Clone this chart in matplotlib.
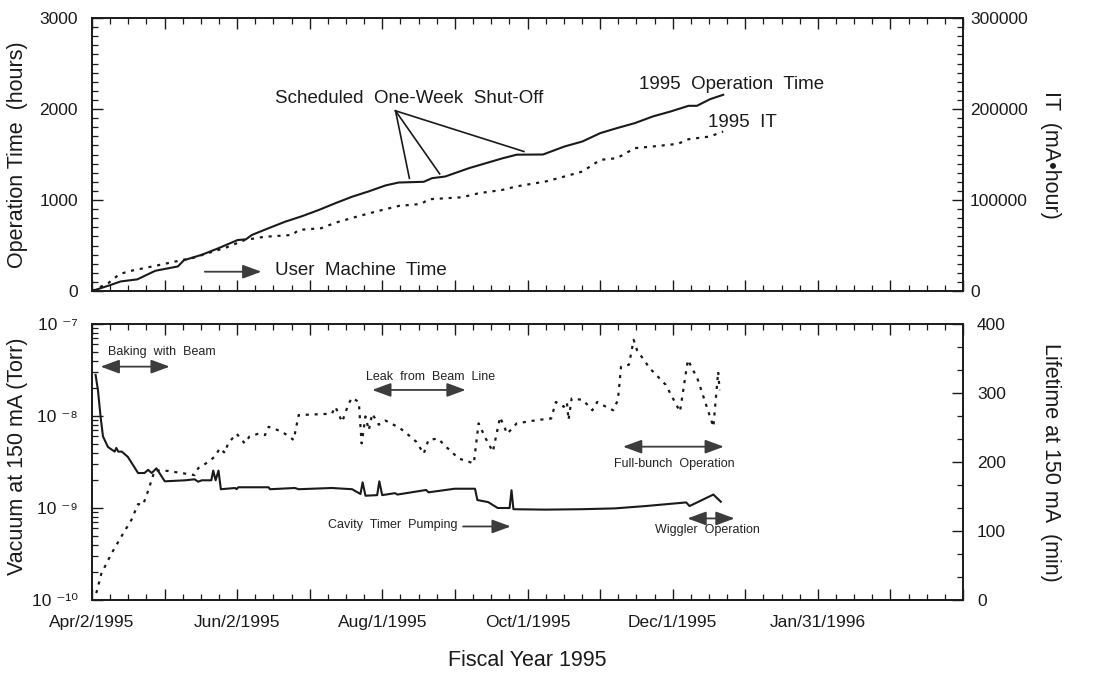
import numpy as np
import matplotlib
matplotlib.use("Agg")
import matplotlib.pyplot as plt
from matplotlib.ticker import FixedLocator, MultipleLocator, NullFormatter, FuncFormatter

plt.rcParams['font.family'] = ['Liberation Sans', 'DejaVu Sans']

# x axis = days since Apr/2/1995
date_labels = ['Apr/2/1995', 'Jun/2/1995', 'Aug/1/1995', 'Oct/1/1995', 'Dec/1/1995', 'Jan/31/1996']

# cumulative operation time (hours)
op_days = [0, 8, 12, 19, 26.5, 36, 38.5, 46, 53, 61, 64.5, 67, 74, 81, 88, 95, 102, 109,
           116, 123, 128.5, 139, 142.5, 148, 158, 165, 172, 178, 189, 198, 205.5, 213,
           220, 227.5, 235, 242.5, 250, 253.5, 259, 264.5]
op_hours = [0, 68, 105, 128, 222, 270, 338, 398, 470, 560, 568, 616, 690, 762, 822, 890,
            965, 1036, 1095, 1160, 1192, 1200, 1240, 1258, 1350, 1404, 1458, 1498, 1500,
            1588, 1643, 1735, 1790, 1845, 1918, 1973, 2035, 2035, 2108, 2156]

# integrated current (mA*hour)
it_days = [0, 7, 11.5, 16, 22.5, 29, 36, 42.5, 49, 56, 64, 72, 84, 86.5, 96, 102, 110,
           119, 128.5, 138, 141, 155, 162, 172, 178, 190, 198, 205.5, 213, 220, 227.5,
           235, 245.5, 250, 259, 264.5]
it_mah = [0, 9000, 18500, 22000, 25500, 29000, 33000, 36500, 42000, 47500, 56000, 59500,
          61600, 67100, 69000, 75000, 81000, 87300, 93500, 95700, 100800, 103000, 107400,
          111100, 115000, 120300, 125800, 131300, 144100, 146000, 157000, 158800, 161700,
          166800, 169800, 175300]

# vacuum pressure at 150 mA (Torr)
vac_days = [1.5, 2.5, 3.6, 4.6, 6.7, 9.5, 10.2, 11, 12.5, 15, 19.3, 22, 23.5, 25, 27, 30.5,
            39, 43, 44.5, 46, 50, 50.8, 51.8, 53, 54, 60, 60.6, 61.3, 74, 74.6, 85, 86.6,
            100.5, 109, 112.5, 113.4, 114.6, 119.5, 120.4, 121.6, 127, 128, 140, 141, 152,
            160.5, 161.5, 166, 170, 175, 175.8, 176.6, 190, 205, 219, 232, 249, 250.4,
            260.4, 263.5]
vac_torr = [2.8e-8, 1.9e-8, 9.8e-9, 6.0e-9, 4.6e-9, 4.1e-9, 4.5e-9, 4.1e-9, 4.1e-9, 3.6e-9,
            2.4e-9, 2.4e-9, 2.6e-9, 2.4e-9, 2.7e-9, 1.95e-9, 2.0e-9, 2.05e-9, 1.93e-9,
            2.0e-9, 2.0e-9, 2.55e-9, 2.0e-9, 2.55e-9, 1.6e-9, 1.65e-9, 1.6e-9, 1.68e-9,
            1.68e-9, 1.6e-9, 1.65e-9, 1.6e-9, 1.65e-9, 1.6e-9, 1.42e-9, 1.9e-9, 1.36e-9,
            1.38e-9, 1.95e-9, 1.38e-9, 1.45e-9, 1.4e-9, 1.57e-9, 1.48e-9, 1.62e-9, 1.62e-9,
            1.22e-9, 1.16e-9, 1.0e-9, 1.0e-9, 1.56e-9, 0.97e-9, 0.96e-9, 0.97e-9, 0.99e-9,
            1.05e-9, 1.15e-9, 1.05e-9, 1.4e-9, 1.17e-9]

# beam lifetime at 150 mA (min)
life_days = [1.8, 3.9, 8.1, 12.3, 16.5, 19.3, 21.4, 23.5, 26.3, 32, 43, 44.5, 48.7, 51.5,
             53.6, 55.7, 57, 60.6, 64, 66, 69.7, 72.5, 74, 79.6, 84.5, 86.6, 100.5, 102,
             104.8, 107.6, 109, 111.8, 113, 114.6, 116, 117.4, 120.2, 123, 128.6, 131, 136,
             139, 141, 145, 148.4, 153.7, 160, 162, 165, 168, 171, 174, 178, 187, 192.4,
             194.4, 197.7, 199, 199.7, 201, 205.7, 209.7, 211.7, 213.7, 218.4, 220.4, 221.7,
             225, 227, 228.4, 233.7, 240.4, 246.4, 249.7, 253.7, 260.4, 262.4, 263]
life_min = [10, 38, 67, 92, 116, 139, 138, 158, 188, 187, 181, 191, 200, 208, 220, 213, 227,
            241, 227, 237, 241, 239, 251, 244, 232, 268, 270, 280, 258, 285, 293, 287, 227,
            266, 246, 270, 254, 260, 250, 244, 229, 212, 232, 234, 222, 205, 198, 256, 234,
            215, 265, 241, 256, 261, 263, 287, 280, 287, 261, 292, 290, 275, 287, 283, 275,
            290, 338, 341, 377, 362, 336, 312, 273, 348, 321, 251, 331, 304]

ink = '#1a1a1a'
arrow_col = '#3c3c3c'
dots = (0, (1.4, 2.6))
SUP = str.maketrans('-0123456789', '\u207b\u2070\u00b9\u00b2\u00b3\u2074\u2075\u2076\u2077\u2078\u2079')

fig = plt.figure(figsize=(11.16, 6.73), dpi=100)
W, H = 1116, 673
ax1 = fig.add_axes([92 / W, 1 - 291 / H, 871 / W, 273 / H])
ax1r = ax1.twinx()
ax2 = fig.add_axes([92 / W, 1 - 600 / H, 871 / W, 276 / H])
ax2r = ax2.twinx()

major_x = np.arange(13) * 365 / 12
minor_x = np.arange(49) * 365 / 48
for ax in (ax1, ax2):
    ax.set_xlim(0, 365)
    ax.xaxis.set_major_locator(FixedLocator(major_x))
    ax.xaxis.set_minor_locator(FixedLocator(minor_x))
    ax.tick_params(axis='x', which='both', direction='in', top=True, bottom=True)
    ax.tick_params(axis='y', which='both', direction='in', left=True, right=False)
for ax in (ax1r, ax2r):
    ax.tick_params(axis='y', which='both', direction='in', left=False, right=True)
for ax in (ax1, ax1r, ax2, ax2r):
    ax.tick_params(which='major', length=8, width=1, colors=ink, labelsize=12.5)
    ax.tick_params(which='minor', length=4.5, width=0.9, colors=ink)
    for s in ax.spines.values():
        s.set_linewidth(1.2)
        s.set_color(ink)

ax1.tick_params(axis='x', labelbottom=False)
ax2.xaxis.set_major_formatter(FuncFormatter(
    lambda v, p: date_labels[p // 2] if p % 2 == 0 and p // 2 < len(date_labels) else ''))
ax2.tick_params(axis='x', which='major', pad=11)

# top panel: operation time and integrated current
ax1.set_ylim(0, 3000)
ax1.yaxis.set_major_locator(FixedLocator(np.arange(0, 3001, 1000)))
ax1.yaxis.set_minor_locator(FixedLocator(np.arange(0, 3001, 100)))
ax1.tick_params(axis='y', pad=10)
ax1r.set_ylim(0, 300000)
ax1r.yaxis.set_major_locator(FixedLocator(np.arange(0, 300001, 100000)))
ax1r.yaxis.set_minor_locator(FixedLocator(np.arange(0, 300001, 10000)))
ax1r.tick_params(axis='y', pad=5)

ax1.plot(op_days, op_hours, color=ink, lw=1.5)
ax1r.plot(it_days, it_mah, color=ink, lw=1.6, linestyle=dots)

ax1.text(76.5, 2063, 'Scheduled  One-Week  Shut-Off', fontsize=13.5, color=ink, va='baseline')
for x_end, y_end in [(133, 1239), (145.7, 1287), (181, 1533)]:
    ax1.plot([127.2, x_end], [1980, y_end], color=ink, lw=1.2)
ax1.text(229.2, 2216, '1995  Operation  Time', fontsize=13.5, color=ink, va='baseline')
ax1.text(258, 1805, '1995  IT', fontsize=13.5, color=ink, va='baseline')
ax1.text(76.5, 176, 'User  Machine  Time', fontsize=13.5, color=ink, va='baseline')

head = dict(color=arrow_col, lw=1.3, shrinkA=0, shrinkB=0, mutation_scale=20)
ax1.annotate('', xy=(71, 212), xytext=(47.3, 212),
             arrowprops=dict(arrowstyle='-|>,head_length=0.57,head_width=0.21', **head))

# bottom panel: vacuum (log) and lifetime
decades = [-10, -9, -8, -7]
ax2.set_yscale('log')
ax2.set_ylim(1e-10, 1e-7)
ax2.yaxis.set_major_locator(FixedLocator([10.0 ** e for e in decades]))
ax2.yaxis.set_minor_locator(FixedLocator([k * 10.0 ** e for e in decades[:-1] for k in range(2, 10)]))
ax2.yaxis.set_minor_formatter(NullFormatter())
ax2.yaxis.set_major_formatter(FuncFormatter(
    lambda v, p: '10 ' + str(round(np.log10(v))).translate(SUP)))
ax2.tick_params(axis='y', pad=10)
ax2r.set_ylim(0, 400)
ax2r.yaxis.set_major_locator(FixedLocator(np.arange(0, 401, 100)))
ax2r.yaxis.set_minor_locator(FixedLocator(np.arange(13) * 100 / 3))
ax2r.tick_params(axis='y', pad=10)

ax2.plot(vac_days, vac_torr, color=ink, lw=1.5)
ax2r.plot(life_days, life_min, color=ink, lw=1.6, linestyle=dots)

both = dict(arrowstyle='<|-|>,head_length=0.57,head_width=0.21', **head)
right = dict(arrowstyle='-|>,head_length=0.57,head_width=0.21', **head)
small = dict(fontsize=9, color='#222222', va='baseline')

ax2.text(6.7, 4.6e-8, 'Baking  with  Beam', **small)
ax2.annotate('', xy=(32.6, 3.44e-8), xytext=(3.6, 3.44e-8), arrowprops=both)
ax2.text(115, 2.46e-8, 'Leak  from  Beam  Line', **small)
ax2.annotate('', xy=(156.6, 1.92e-8), xytext=(117.4, 1.92e-8), arrowprops=both)
ax2.text(99, 6.1e-10, 'Cavity  Timer  Pumping', **small)
ax2.annotate('', xy=(175.5, 6.3e-10), xytext=(155.5, 6.3e-10), arrowprops=right)
ax2.text(218.8, 2.81e-9, 'Full-bunch  Operation', **small)
ax2.annotate('', xy=(264.8, 4.64e-9), xytext=(222.5, 4.64e-9), arrowprops=both)
ax2.text(236, 5.3e-10, 'Wiggler  Operation', **small)
ax2.annotate('', xy=(269.3, 7.7e-10), xytext=(249.5, 7.7e-10), arrowprops=both)

# axis titles
lab = dict(fontsize=15.5, color=ink, ha='center', va='center')
fig.text(17.5 / W, 1 - 154.5 / H, 'Operation Time  (hours)', rotation=90, **lab)
fig.text(1050 / W, 1 - 154.5 / H, 'IT  (mA\u2022hour)', rotation=-90, **lab)
fig.text(17.5 / W, 1 - 456 / H, 'Vacuum at 150 mA (Torr)', rotation=90, **lab)
fig.text(1050 / W, 1 - 462 / H, 'Lifetime at 150 mA  (min)', rotation=-90, **lab)
fig.text(527 / W, 1 - 660 / H, 'Fiscal Year 1995', **lab)

fig.savefig('out.png', dpi=100, facecolor='white')
